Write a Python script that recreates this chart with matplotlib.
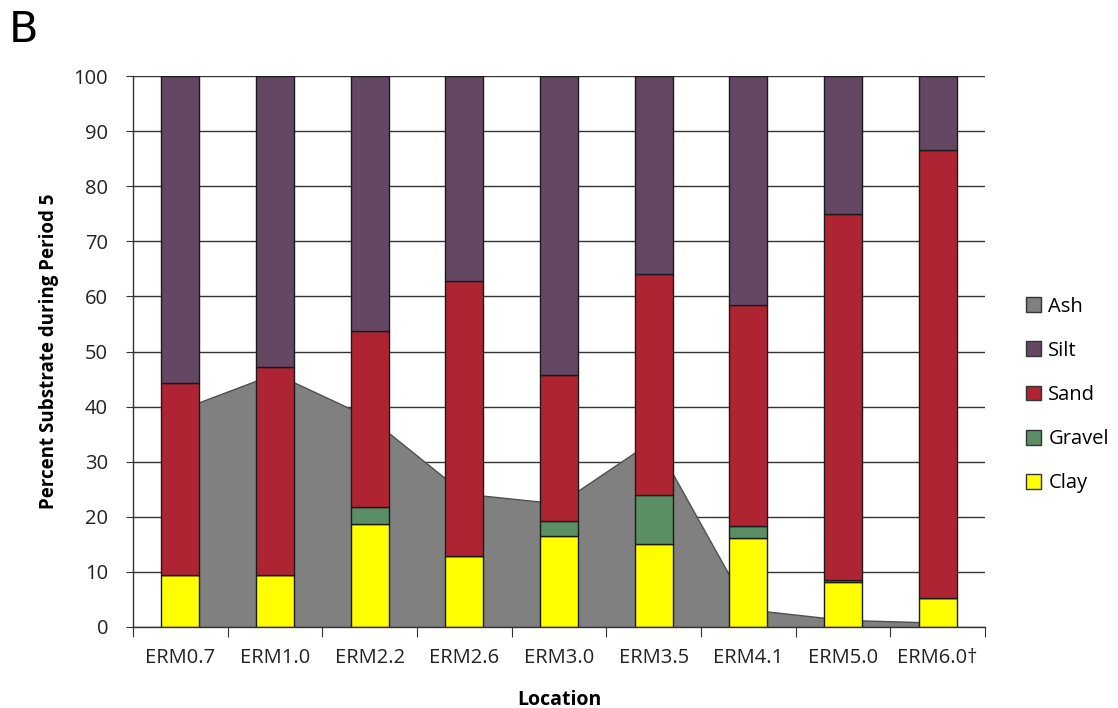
import matplotlib
matplotlib.use("Agg")
import matplotlib.pyplot as plt
from matplotlib.patches import Patch
import numpy as np

locations = ["ERM0.7", "ERM1.0", "ERM2.2", "ERM2.6", "ERM3.0", "ERM3.5", "ERM4.1", "ERM5.0", "ERM6.0\u2020"]
clay = [9.4, 9.4, 18.7, 12.8, 16.5, 15.0, 16.2, 8.1, 5.25]
gravel = [0.0, 0.0, 3.05, 0.0, 2.8, 8.9, 2.1, 0.45, 0.0]
sand = [34.8, 37.7, 32.05, 50.0, 26.4, 40.1, 40.1, 66.45, 81.25]
silt = [100 - c - g - s for c, g, s in zip(clay, gravel, sand)]
ash = [39.5, 46.0, 38.0, 24.2, 22.4, 34.0, 3.2, 1.3, 0.8]

colors = {"Ash": "#808080", "Silt": "#644863", "Sand": "#AE2433",
          "Gravel": "#5A8E64", "Clay": "#FFFF00"}

plt.rcParams["font.family"] = ["Open Sans", "DejaVu Sans"]

fig = plt.figure(figsize=(11.18, 7.08), dpi=100)
ax = fig.add_axes([133 / 1118, 1 - 627 / 708, (985 - 133) / 1118, (627 - 76) / 708])

x = np.arange(len(locations))

# gridlines
ax.set_ylim(0, 100)
ax.set_xlim(-0.5, len(locations) - 0.5)
ax.set_yticks(np.arange(0, 101, 10))
ax.yaxis.grid(True, color="#333333", linewidth=1.0, zorder=0)
ax.set_axisbelow(True)

# ash area behind the bars
ax.fill_between(x, ash, 0, facecolor=colors["Ash"], edgecolor="#505050",
                linewidth=1.0, zorder=1)

# stacked substrate bars
w = 0.40
bottom = np.zeros(len(x))
for name, vals in [("Clay", clay), ("Gravel", gravel), ("Sand", sand), ("Silt", silt)]:
    vals = np.array(vals)
    ax.bar(x, vals, width=w, bottom=bottom, color=colors[name],
           edgecolor="#1a1a1a", linewidth=1.0, zorder=3)
    bottom += vals

# axes styling
for s in ["top", "right"]:
    ax.spines[s].set_visible(False)
for s in ["left", "bottom"]:
    ax.spines[s].set_color("#333333")
    ax.spines[s].set_linewidth(1.0)
    ax.spines[s].set_zorder(4)

ax.set_xticks(np.arange(-0.5, len(locations), 1.0))
ax.set_xticklabels([])
ax.set_xticks(x, minor=True)
ax.set_xticklabels(locations, minor=True, fontsize=14.5, color="#222222")
ax.tick_params(axis="x", which="major", direction="out", length=7, color="#333333")
ax.tick_params(axis="x", which="minor", length=0, pad=15)
ax.tick_params(axis="y", direction="out", length=5, color="#333333",
               labelsize=14.5, labelcolor="#222222", pad=13)

ax.set_ylabel("Percent Substrate during Period 5", fontsize=13.5, fontweight="bold",
              labelpad=10)
ax.set_xlabel("Location", fontsize=14, fontweight="bold", labelpad=16)

handles = [Patch(facecolor=colors[k], edgecolor="#333333", linewidth=1.0)
           for k in ["Ash", "Silt", "Sand", "Gravel", "Clay"]]
fig.legend(handles, ["Ash", "Silt", "Sand", "Gravel", "Clay"],
           loc="center left", bbox_to_anchor=(1008 / 1118, 1 - 395 / 708),
           frameon=False, fontsize=14.5, handlelength=0.75, handleheight=0.75,
           handletextpad=0.35, labelspacing=1.2)

fig.text(9 / 1118, 1 - 42 / 708, "B", fontsize=31, family="DejaVu Sans")

fig.savefig("out.png", dpi=100)
